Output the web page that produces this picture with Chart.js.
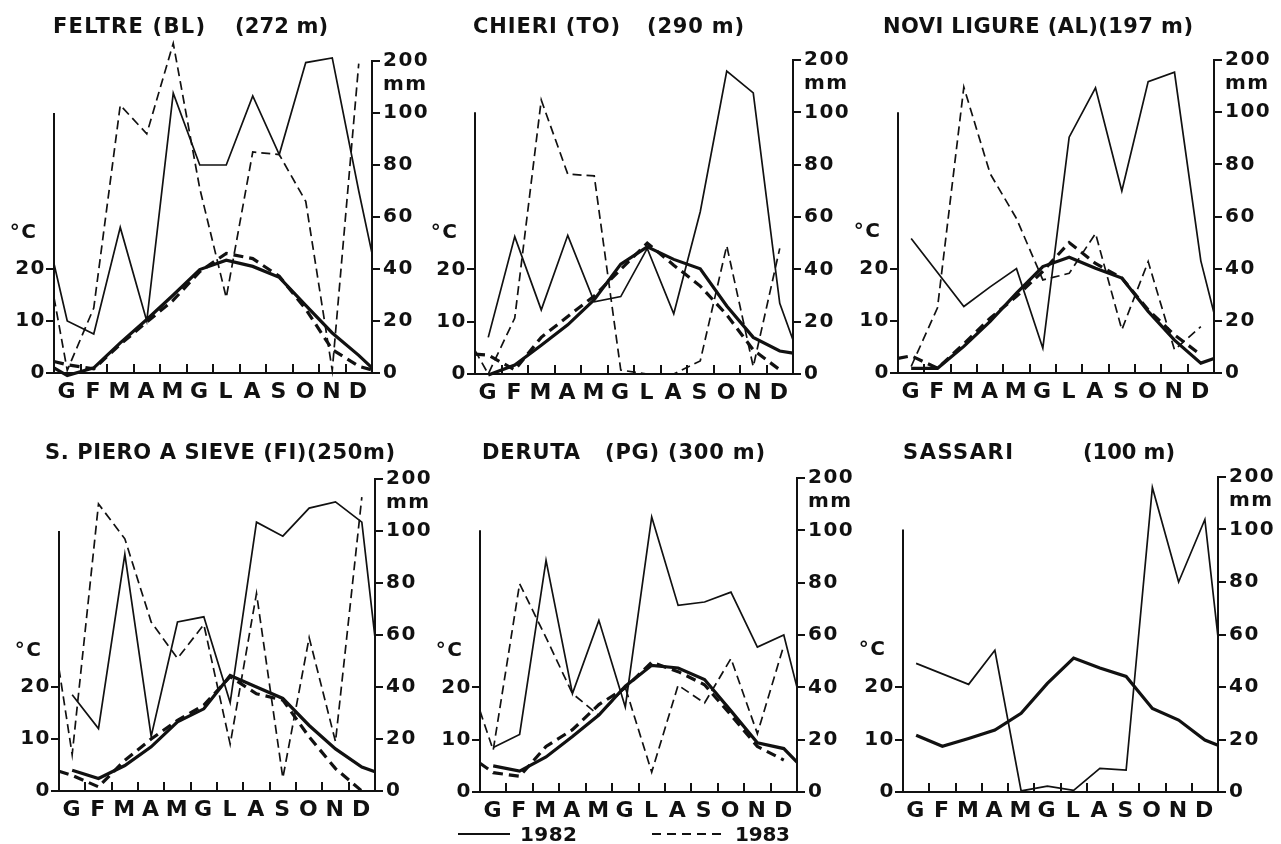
<!DOCTYPE html>
<html><head><meta charset="utf-8">
<script src="https://cdn.jsdelivr.net/npm/chart.js@4.4.1/dist/chart.umd.min.js"></script>
<style>
html,body{margin:0;padding:0;background:#fff;}
body{width:1281px;height:844px;position:relative;overflow:hidden;font-family:"DejaVu Sans",sans-serif;color:#111;}
canvas{position:absolute;}
.t{position:absolute;font-weight:bold;font-size:20px;line-height:20px;white-space:pre;}
svg.l{position:absolute;overflow:visible;}
</style></head><body>
<script>
// ---------------- DATA ----------------
const months = ['G','F','M','A','M','G','L','A','S','O','N','D'];
const rainTicks = [0,20,40,60,80,100,200];
const tempTicks = [0,10,20];
// each series: [start edge, G, F, M, A, M, G, L, A, S, O, N, D, end edge]  (rain mm, temperature °C)
const feltreRain82 = [42,20,15,56,20,138,80,80,133,84,197,206,70,46];
const feltreRain83 = [29,1,25,115,92,234,71,29,85,84,66,1,195,null];
const feltreTemp82 = [1.0,-0.5,1.0,5.8,10.3,15,19.9,21.7,20.5,18.4,13,7.7,3.4,1.0];
const feltreTemp83 = [2.2,1.6,0.8,5.5,9.8,14,19.5,23,22,18.6,12.3,4.5,1.3,0.6];

const chieriRain82 = [null,14,52.5,24.5,53,27.6,29.6,48,23,62,179,137,27,13];
const chieriRain83 = [9,0,21.4,123.5,76.4,75.7,1.5,0,0,5,49,2.8,48,null];
const chieriTemp82 = [null,-0.2,1.7,5.5,9.4,14.2,21,24.3,21.9,20.1,13,7,4.4,4.0];
const chieriTemp83 = [3.8,3.6,0.8,7,11,14.9,20,25,20.8,16.8,11.3,4.6,0.8,null];

const noviRain82 = [null,51.6,38.5,25.5,33,40,9.5,90.4,146.5,69.8,158.5,176.5,43,23];
const noviRain83 = [null,2.5,25,148,76.4,59.2,35.7,38.2,53.5,16.6,42.7,8.9,17.8,null];
const noviTemp82 = [null,0.9,0.9,5.1,9.9,15.3,20.4,22.2,20.1,18.2,11.8,6.3,1.9,2.8];
const noviTemp83 = [2.8,3.3,0.9,5.6,10.5,14.7,19.5,25,21,18.2,12.1,7.3,3.5,null];

const pieroRain82 = [null,37,24,91,21,65,67,34,117,98,144,156,117,59];
const pieroRain83 = [47,14,152,97,65,51,64,18,76,5,59,19,165,null];
const pieroTemp82 = [null,4.0,2.4,4.9,8.5,13.3,15.8,22.2,20,17.8,12.6,8.1,4.6,3.7];
const pieroTemp83 = [3.8,3.0,0.8,5.9,10,13.6,16.5,22,18.7,17.5,10.4,4.3,0,null];

const derutaRain82 = [null,17,22,88.5,37.6,65.6,32.5,125.5,71.3,72.6,76.4,55.4,60,40];
const derutaRain83 = [31,16,79.6,59,37.6,29.3,40,7.6,40.8,34,51,22.3,56,null];
const derutaTemp82 = [null,5.0,4.0,6.7,10.6,14.7,20.2,24.2,23.7,21.5,15.5,9.4,8.3,5.7];
const derutaTemp83 = [5.5,3.7,3.0,8.7,11.9,16.7,19.9,24.8,23,20.5,14.7,8.7,6.1,null];

const sassariRain82 = [null,49,45,41,54,0.4,2.2,0.6,9,8.3,180,80,119,59];
const sassariTemp82 = [null,10.8,8.7,10.2,11.8,15,20.7,25.5,23.6,22,15.9,13.7,9.9,8.9];

// ---------------- SCALE: rain axis, linear to 100 mm, compressed 1:5 above ----------------
const BREAK = 100, SQUEEZE = 5, TOP_T = 120;
const toT = v => v <= BREAK ? v : BREAK + (v - BREAK) / SQUEEZE;
const fromT = t => t <= BREAK ? t : BREAK + (t - BREAK) * SQUEEZE;
class BrokenScale extends Chart.LinearScale {
  static id = 'broken';
  getPixelForValue(v){ return this.getPixelForDecimal(toT(v) / TOP_T); }
  getValueForPixel(p){ return fromT(this.getDecimalForPixel(p) * TOP_T); }
}
Chart.register(BrokenScale);

const INK = '#111';
const MM_LABEL_AT = 155, DEG_LABEL_AT = 27, LEFT_AXIS_TOP = 50;

const framePlugin = {
  id: 'frame',
  beforeDraw(chart){
    try { chart.ctx.letterSpacing = '1.5px'; } catch(e) {}
  },
  beforeDatasetsDraw(chart){
    const {ctx, chartArea:a, scales} = chart;
    const x = scales.x, yT = scales.yT;
    ctx.save();
    ctx.strokeStyle = INK; ctx.lineWidth = 2; ctx.lineCap = 'butt';
    ctx.beginPath();
    const lx = Math.round(a.left);
    ctx.moveTo(lx, yT.getPixelForValue(0) + 1);
    ctx.lineTo(lx, yT.getPixelForValue(LEFT_AXIS_TOP));
    for (let i = 1; i < months.length; i++){
      const px = Math.round(x.getPixelForValue(i));
      ctx.moveTo(px, a.bottom);
      ctx.lineTo(px, a.bottom - 9);
    }
    ctx.stroke();
    ctx.restore();
  }
};

const xPos = i => i === 0 ? 0 : (i === months.length + 1 ? months.length : i - 0.5);
const toPts = arr => arr.map((v, i) => ({x: xPos(i), y: v}));

function makeChart(p){
  const side = 70, padT = 40, padB = 36;
  const w = p.R - p.L + 2*side, h = p.B - p.T + padT + padB;
  const cv = document.createElement('canvas');
  cv.width = w; cv.height = h;
  cv.style.left = (p.L - side) + 'px'; cv.style.top = (p.T - padT) + 'px';
  cv.style.width = w + 'px'; cv.style.height = h + 'px';
  document.body.appendChild(cv);
  const ds = [];
  const dashes = [[], [9,5]];
  const tdashes = [[], [10,6]];
  p.rain.forEach((r, k) => ds.push({data: toPts(r), yAxisID: 'y', borderColor: INK, borderWidth: 1.7,
      borderDash: dashes[k], pointRadius: 0, tension: 0, clip: false, spanGaps: false, fill: false}));
  p.temp.forEach((r, k) => ds.push({data: toPts(r), yAxisID: 'yT', borderColor: INK, borderWidth: 3.2,
      borderDash: tdashes[k], pointRadius: 0, tension: 0, clip: false, spanGaps: false, fill: false}));
  const yFont = {family: 'DejaVu Sans', size: 20, weight: 'bold'};
  new Chart(cv, {
    type: 'line',
    data: {datasets: ds},
    options: {
      responsive: false, animation: false, devicePixelRatio: 1,
      layout: {padding: {top: padT, left: 0, right: 0, bottom: 0}, autoPadding: false},
      plugins: {legend: {display: false}, tooltip: {enabled: false}},
      scales: {
        x: {
          type: 'linear', min: 0, max: months.length, position: 'bottom',
          afterFit: s => { s.height = padB; },
          afterBuildTicks: s => { s.ticks = months.map((m, i) => ({value: i + 0.5})); },
          ticks: {autoSkip: false, maxRotation: 0, minRotation: 0, padding: 6, color: INK,
                  font: {family: 'DejaVu Sans', size: 22, weight: 'bold'},
                  callback: (v, i) => months[i]},
          grid: {display: false, drawTicks: false},
          border: {display: true, color: INK, width: 2}
        },
        yT: {
          type: 'linear', position: 'left', min: 0, max: TOP_T / 2,
          afterFit: s => { s.width = side; },
          afterBuildTicks: s => { s.ticks = tempTicks.concat([DEG_LABEL_AT]).map(v => ({value: v})); },
          ticks: {autoSkip: false, padding: 0, color: INK, font: yFont,
                  callback: v => v === DEG_LABEL_AT ? '°C ' : String(v)},
          grid: {display: true, drawOnChartArea: false, drawTicks: true, tickLength: 8, lineWidth: 2,
                 tickColor: c => (c.tick && c.tick.value === DEG_LABEL_AT) ? 'rgba(0,0,0,0)' : INK,
                 color: INK},
          border: {display: false}
        },
        y: {
          type: 'broken', position: 'right', min: 0, max: 200,
          afterFit: s => { s.width = side; },
          afterBuildTicks: s => { s.ticks = rainTicks.concat([MM_LABEL_AT]).map(v => ({value: v})); },
          ticks: {autoSkip: false, padding: 3, color: INK, font: yFont,
                  callback: v => v === MM_LABEL_AT ? 'mm' : String(v)},
          grid: {display: true, drawOnChartArea: false, drawTicks: true, tickLength: 8, lineWidth: 2,
                 tickColor: c => (c.tick && c.tick.value === MM_LABEL_AT) ? 'rgba(0,0,0,0)' : INK,
                 color: INK},
          border: {display: true, color: INK, width: 2}
        }
      }
    },
    plugins: [framePlugin]
  });
}

const panels = [
  {L: 54,  R: 372,  T: 61,  B: 373, rain: [feltreRain82, feltreRain83], temp: [feltreTemp82, feltreTemp83]},
  {L: 475, R: 793,  T: 60,  B: 374, rain: [chieriRain82, chieriRain83], temp: [chieriTemp82, chieriTemp83]},
  {L: 898, R: 1214, T: 60,  B: 373, rain: [noviRain82, noviRain83], temp: [noviTemp82, noviTemp83]},
  {L: 59,  R: 375,  T: 479, B: 791, rain: [pieroRain82, pieroRain83], temp: [pieroTemp82, pieroTemp83]},
  {L: 480, R: 797,  T: 478, B: 792, rain: [derutaRain82, derutaRain83], temp: [derutaTemp82, derutaTemp83]},
  {L: 903, R: 1218, T: 477, B: 792, rain: [sassariRain82], temp: [sassariTemp82]}
];
panels.forEach(makeChart);

// ---------------- TEXT (titles, legend) ----------------
function addText(text, x, yc, w, size){
  const d = document.createElement('div');
  d.className = 't';
  d.textContent = text;
  d.style.fontSize = size + 'px'; d.style.lineHeight = size + 'px';
  d.style.left = x + 'px'; d.style.top = (yc - size/2) + 'px';
  document.body.appendChild(d);
  const nat = d.getBoundingClientRect().width;
  const n = text.length;
  if (n > 1) d.style.letterSpacing = ((w - nat) / (n - 1)) + 'px';
}
const titles = [
  ['FELTRE (BL)', 53, 26, 152], ['(272 m)', 235, 26, 93],
  ['CHIERI (TO)', 473, 26, 147], ['(290 m)', 647, 26, 97],
  ['NOVI LIGURE (AL)(197 m)', 883, 26, 310],
  ['S. PIERO A SIEVE (FI)(250m)', 45, 452, 350],
  ['DERUTA', 482, 452, 98], ['(PG) (300 m)', 605, 452, 160],
  ['SASSARI', 903, 452, 110], ['(100 m)', 1083, 452, 92]
];
titles.forEach(t => addText(t[0], t[1], t[2], t[3], 21));
addText('1982', 520, 834, 57, 20);
addText('1983', 735, 834, 55, 20);

function addLine(x1, x2, y, dash){
  const ns = 'http://www.w3.org/2000/svg';
  const s = document.createElementNS(ns, 'svg');
  s.setAttribute('class', 'l');
  s.setAttribute('width', x2 - x1); s.setAttribute('height', 4);
  s.style.left = x1 + 'px'; s.style.top = (y - 2) + 'px';
  const l = document.createElementNS(ns, 'line');
  l.setAttribute('x1', 0); l.setAttribute('x2', x2 - x1);
  l.setAttribute('y1', 2); l.setAttribute('y2', 2);
  l.setAttribute('stroke', INK); l.setAttribute('stroke-width', 2);
  if (dash) l.setAttribute('stroke-dasharray', dash);
  s.appendChild(l);
  document.body.appendChild(s);
}
addLine(458, 510, 834, null);
addLine(652, 722, 834, '9 6');
</script>
</body></html>
